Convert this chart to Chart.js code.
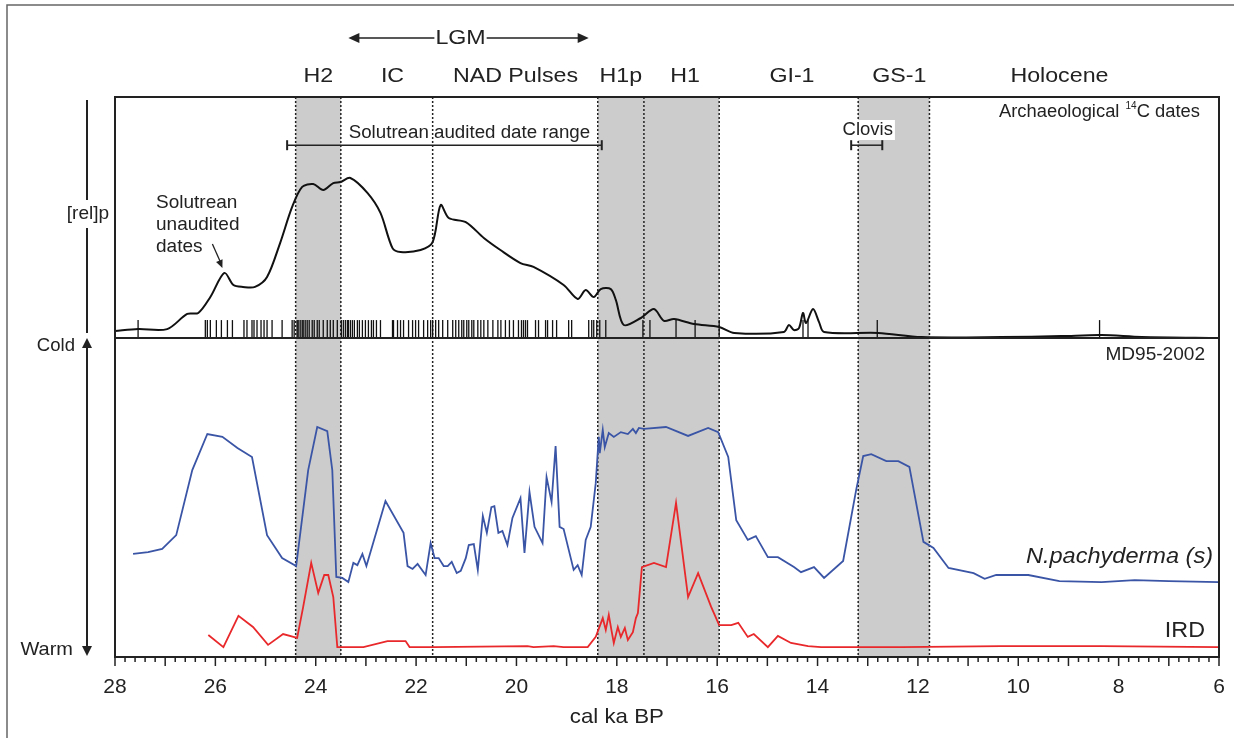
<!DOCTYPE html>
<html>
<head>
<meta charset="utf-8">
<script src="https://cdn.jsdelivr.net/npm/chart.js@4.4.1/dist/chart.umd.min.js"></script>
<style>
  html, body { margin: 0; padding: 0; background: #fff; }
  #wrap { position: relative; width: 1234px; height: 738px; }
  canvas { display: block; }
</style>
</head>
<body>
<div id="wrap"><canvas id="chart" width="1234" height="738"></canvas></div>
<script>
// x axis: cal ka BP, reversed (28 -> 6)
const xMin = 6;
const xMax = 28;
const xTickStep = 2;

// Archaeological 14C dates, summed relative probability (top panel, arbitrary 0-100)
const relpAge = [28.00, 27.54, 26.96, 26.56, 26.34, 26.10, 25.82, 25.64, 25.45, 25.21, 24.97, 24.71, 24.47, 24.27, 24.05, 23.85, 23.65, 23.51, 23.31, 22.97, 22.71, 22.47, 22.31, 21.91, 21.67, 21.51, 21.35, 21.01, 20.65, 20.32, 19.92, 19.66, 19.06, 18.78, 18.62, 18.46, 18.32, 18.12, 18.02, 17.86, 17.52, 17.26, 17.06, 16.86, 16.46, 15.96, 15.66, 14.67, 14.57, 14.47, 14.37, 14.29, 14.23, 14.09, 13.97, 13.87, 12.79, 11.93, 10.34, 9.14, 8.34, 7.54, 6.00];
const relpVal = [2.9, 3.7, 3.7, 10.0, 10.4, 17.0, 27.0, 22.0, 21.2, 21.2, 25.3, 39.4, 54.4, 62.7, 63.9, 61.4, 64.3, 64.7, 66.4, 60.2, 51.9, 37.3, 35.7, 36.5, 39.8, 55.2, 49.8, 48.1, 41.5, 36.5, 31.1, 29.5, 22.0, 16.2, 19.9, 17.0, 20.3, 20.3, 15.8, 5.4, 8.3, 12.0, 7.1, 7.9, 5.8, 4.6, 2.1, 2.5, 5.4, 3.3, 4.1, 10.4, 6.2, 12.0, 6.6, 2.5, 2.1, 0.4, 0.4, 0.8, 1.2, 0.4, 0.0];

// individual archaeological dates (ka)
const dateTicks = [27.54, 26.20, 26.16, 26.10, 25.98, 25.88, 25.76, 25.66, 25.43, 25.37, 25.27, 25.23, 25.17, 25.09, 25.03, 24.97, 24.87, 24.67, 24.47, 24.43, 24.37, 24.35, 24.31, 24.27, 24.25, 24.21, 24.17, 24.13, 24.07, 24.03, 23.97, 23.93, 23.85, 23.77, 23.71, 23.65, 23.57, 23.49, 23.45, 23.41, 23.37, 23.35, 23.31, 23.27, 23.23, 23.17, 23.13, 23.07, 23.01, 22.95, 22.89, 22.85, 22.79, 22.71, 22.47, 22.45, 22.37, 22.31, 22.25, 22.15, 22.07, 22.01, 21.95, 21.85, 21.77, 21.71, 21.67, 21.61, 21.55, 21.47, 21.37, 21.27, 21.21, 21.15, 21.09, 21.05, 20.99, 20.95, 20.89, 20.85, 20.77, 20.71, 20.65, 20.57, 20.47, 20.37, 20.31, 20.22, 20.14, 20.06, 19.96, 19.90, 19.86, 19.82, 19.78, 19.62, 19.56, 19.42, 19.38, 19.28, 19.20, 18.96, 18.90, 18.56, 18.50, 18.46, 18.40, 18.34, 18.22, 17.48, 17.34, 16.82, 16.44, 15.96, 14.29, 14.19, 12.81, 8.38];

// MD95-2002 N. pachyderma (s) (bottom panel, arbitrary 0-100)
const npsAge = [27.64, 27.34, 27.06, 26.78, 26.46, 26.16, 25.86, 25.56, 25.27, 24.97, 24.67, 24.39, 24.15, 23.97, 23.77, 23.67, 23.59, 23.47, 23.35, 23.25, 23.17, 23.07, 22.99, 22.61, 22.25, 22.17, 22.07, 21.97, 21.81, 21.71, 21.63, 21.55, 21.45, 21.37, 21.29, 21.19, 21.11, 21.01, 20.95, 20.85, 20.77, 20.67, 20.59, 20.50, 20.44, 20.36, 20.28, 20.18, 20.08, 19.92, 19.84, 19.74, 19.64, 19.48, 19.40, 19.30, 19.22, 19.14, 19.06, 18.86, 18.78, 18.70, 18.62, 18.52, 18.42, 18.36, 18.34, 18.28, 18.24, 18.16, 18.06, 17.92, 17.78, 17.68, 17.62, 17.56, 17.46, 17.02, 16.58, 16.18, 15.98, 15.78, 15.62, 15.39, 15.23, 14.99, 14.79, 14.47, 14.33, 14.07, 13.87, 13.49, 13.23, 13.09, 12.93, 12.63, 12.39, 12.17, 11.89, 11.69, 11.39, 10.89, 10.67, 10.44, 9.80, 9.18, 8.34, 7.68, 7.00, 6.00];
const npsVal = [32.3, 32.9, 33.9, 38.2, 58.6, 69.9, 69.0, 65.5, 62.7, 38.2, 31.0, 28.5, 58.6, 72.1, 70.8, 58.6, 25.1, 24.8, 23.5, 29.5, 28.8, 32.3, 28.5, 48.9, 38.9, 28.5, 27.6, 29.2, 25.7, 35.7, 31.0, 31.0, 28.5, 28.5, 29.8, 26.3, 27.0, 31.0, 35.1, 35.4, 27.3, 44.2, 38.9, 47.0, 47.3, 38.9, 39.5, 35.1, 43.6, 49.8, 32.6, 51.7, 40.8, 35.7, 56.4, 48.6, 66.1, 40.8, 40.1, 27.3, 28.8, 25.7, 36.7, 40.8, 54.5, 69.0, 63.9, 71.2, 65.8, 70.2, 69.0, 70.5, 69.9, 71.5, 70.2, 71.8, 71.5, 72.1, 69.3, 71.8, 70.5, 62.7, 42.9, 36.7, 37.9, 31.3, 31.3, 28.2, 26.6, 28.2, 24.8, 30.1, 52.4, 63.0, 63.6, 61.4, 61.4, 59.6, 36.1, 34.2, 27.9, 26.3, 24.5, 25.7, 25.7, 23.8, 23.5, 24.1, 23.8, 23.5];

// MD95-2002 IRD (bottom panel, same arbitrary scale)
const irdAge = [26.14, 25.84, 25.54, 25.25, 24.95, 24.65, 24.37, 24.25, 24.09, 23.95, 23.83, 23.75, 23.65, 23.57, 23.51, 23.05, 22.57, 22.21, 22.13, 21.65, 19.78, 19.66, 19.26, 19.06, 18.58, 18.42, 18.28, 18.22, 18.16, 18.10, 18.06, 17.98, 17.92, 17.84, 17.78, 17.68, 17.62, 17.58, 17.50, 17.26, 17.02, 16.82, 16.58, 16.38, 16.12, 15.96, 15.72, 15.58, 15.39, 15.27, 14.99, 14.79, 14.53, 14.19, 13.93, 12.33, 10.34, 8.34, 6.00];
const irdVal = [6.9, 3.1, 12.9, 9.4, 3.8, 7.2, 6.0, 15.7, 29.5, 20.1, 25.7, 25.7, 18.8, 3.1, 3.1, 3.1, 5.0, 5.0, 3.1, 3.1, 3.4, 3.1, 3.4, 3.1, 3.1, 6.3, 12.2, 8.5, 13.2, 7.8, 4.4, 9.4, 6.3, 9.1, 5.3, 7.8, 12.2, 13.8, 28.2, 29.5, 28.2, 48.3, 18.8, 26.3, 15.7, 10.0, 10.0, 10.7, 6.3, 7.2, 3.1, 6.6, 4.4, 3.4, 3.1, 3.1, 3.4, 3.4, 3.1];

// shaded stadials and period boundaries (ka)
const bandStart = [24.4, 18.38, 17.46, 13.19];
const bandEnd = [23.5, 17.46, 15.96, 11.77];
const boundaries = [24.4, 23.5, 21.67, 18.38, 17.46, 15.96, 13.19, 11.77];

// period labels above the plot
const periodNames = ['H2', 'IC', 'NAD Pulses', 'H1p', 'H1', 'GI-1', 'GS-1', 'Holocene'];
const periodCenters = [23.95, 22.47, 20.02, 17.92, 16.64, 14.51, 12.37, 9.18];
const lgmRange = [23.35, 18.56];

// date ranges (ka) drawn as bars in top panel
const solutreanRange = [24.57, 18.30];
const clovisRange = [13.33, 12.71];

const FONT = '"Liberation Sans", Arial, sans-serif';
const TEXT = '#222';

function pts(xs, ys) {
    return xs.map((x, i) => ({ x: x, y: ys[i] }));
}

// text with optional horizontal stretch (the source figure is slightly wide)
function drawText(ctx, text, x, y, size, sx, align, style) {
    ctx.save();
    ctx.font = (style ? style + ' ' : '') + size + 'px ' + FONT;
    ctx.textAlign = align || 'center';
    ctx.translate(x, y);
    ctx.scale(sx || 1, 1);
    ctx.fillText(text, 0, 0);
    const w = ctx.measureText(text).width * (sx || 1);
    ctx.restore();
    return w;
}

function arrowHead(ctx, x, y, dir, len, half) {
    // dir: 'left' | 'right' | 'up' | 'down', (x, y) is the tip
    ctx.beginPath();
    ctx.moveTo(x, y);
    if (dir === 'left') { ctx.lineTo(x + len, y - half); ctx.lineTo(x + len, y + half); }
    if (dir === 'right') { ctx.lineTo(x - len, y - half); ctx.lineTo(x - len, y + half); }
    if (dir === 'up') { ctx.lineTo(x - half, y + len); ctx.lineTo(x + half, y + len); }
    if (dir === 'down') { ctx.lineTo(x - half, y - len); ctx.lineTo(x + half, y - len); }
    ctx.closePath();
    ctx.fill();
}

// Shading, dotted boundaries, frames, ticks and annotation text
const panelPlugin = {
    id: 'panels',
    beforeDatasetsDraw(chart) {
        const { ctx, chartArea: a, scales: { x } } = chart;
        ctx.save();
        ctx.fillStyle = '#cccccc';
        bandStart.forEach((s, i) => {
            const x0 = x.getPixelForValue(s);
            const x1 = x.getPixelForValue(bandEnd[i]);
            ctx.fillRect(x0, a.top, x1 - x0, a.bottom - a.top);
        });
        ctx.setLineDash([2, 2]);
        ctx.strokeStyle = '#222';
        ctx.lineWidth = 1.5;
        boundaries.forEach(b => {
            const px = x.getPixelForValue(b);
            ctx.beginPath();
            ctx.moveTo(px, a.top);
            ctx.lineTo(px, a.bottom);
            ctx.stroke();
        });
        ctx.restore();
    },
    afterDatasetsDraw(chart) {
        const { ctx, chartArea: a, scales: { x, yTop, yBot } } = chart;
        ctx.save();

        // outer figure frame
        ctx.strokeStyle = '#666';
        ctx.lineWidth = 1.5;
        ctx.beginPath();
        ctx.moveTo(7, 738);
        ctx.lineTo(7, 5);
        ctx.lineTo(1234, 5);
        ctx.stroke();

        // panel boxes
        ctx.strokeStyle = '#222';
        ctx.lineWidth = 2;
        ctx.strokeRect(a.left, a.top, a.right - a.left, a.bottom - a.top);
        ctx.beginPath();
        ctx.moveTo(a.left, yBot.top);
        ctx.lineTo(a.right, yBot.top);
        ctx.stroke();

        // x axis minor / major ticks
        ctx.lineWidth = 1.5;
        for (let i = 0; i <= (xMax - xMin) * 5; i++) {
            const v = xMin + i / 5;
            const px = x.getPixelForValue(v);
            const major = i % 5 === 0;
            ctx.beginPath();
            ctx.moveTo(px, a.bottom);
            ctx.lineTo(px, a.bottom + (major ? 9 : 5));
            ctx.stroke();
        }

        ctx.fillStyle = TEXT;
        ctx.textBaseline = 'middle';

        // axis title (sits under 18 ka in the source)
        drawText(ctx, 'cal ka BP', x.getPixelForValue(18), 717, 21, 1.06);

        // period labels + LGM arrow
        periodNames.forEach((n, i) => {
            drawText(ctx, n, x.getPixelForValue(periodCenters[i]), 77, 19.5, 1.19);
        });
        const l0 = x.getPixelForValue(lgmRange[0]);
        const l1 = x.getPixelForValue(lgmRange[1]);
        const lc = (l0 + l1) / 2 - 8;
        const lw = drawText(ctx, 'LGM', lc, 39, 19.5, 1.19) / 2 + 1;
        ctx.lineWidth = 1.5;
        ctx.beginPath();
        ctx.moveTo(l0 + 8, 38);
        ctx.lineTo(lc - lw, 38);
        ctx.moveTo(lc + lw, 38);
        ctx.lineTo(l1 - 8, 38);
        ctx.stroke();
        arrowHead(ctx, l0, 38, 'left', 11, 5);
        arrowHead(ctx, l1, 38, 'right', 11, 5);

        // left side: [rel]p and Cold / Warm arrow
        const ax = a.left - 28;
        ctx.lineWidth = 2;
        ctx.beginPath();
        ctx.moveTo(ax, yTop.top + 3);
        ctx.lineTo(ax, 200);
        ctx.moveTo(ax, 228);
        ctx.lineTo(ax, yTop.bottom - 5);
        ctx.moveTo(ax, yBot.top + 8);
        ctx.lineTo(ax, yBot.bottom - 8);
        ctx.stroke();
        arrowHead(ctx, ax, yBot.top, 'up', 10, 5);
        arrowHead(ctx, ax, yBot.bottom - 1, 'down', 10, 5);
        drawText(ctx, '[rel]p', ax + 1, 214, 18.5, 1.03);
        drawText(ctx, 'Cold', ax - 12, 346, 18, 1.03, 'right');
        drawText(ctx, 'Warm', ax - 14, 650, 18.5, 1.08, 'right');

        // panel titles
        let rx = a.right - 19;
        rx -= drawText(ctx, 'C dates', rx, 112, 17.5, 1.05, 'right');
        rx -= drawText(ctx, '14', rx, 106, 10, 1, 'right') + 1;
        drawText(ctx, 'Archaeological ', rx, 112, 17.5, 1.05, 'right');
        drawText(ctx, 'MD95-2002', a.right - 14, 355, 18.5, 1.03, 'right');
        drawText(ctx, 'N.pachyderma (s)', a.right - 6, 557, 22, 1.07, 'right', 'italic');
        drawText(ctx, 'IRD', a.right - 14, 631, 22, 1.06, 'right');

        // Solutrean audited range label
        const s0 = x.getPixelForValue(solutreanRange[0]);
        const s1 = x.getPixelForValue(solutreanRange[1]);
        drawText(ctx, 'Solutrean audited date range', (s0 + s1) / 2 + 25, 133, 18, 1.04);

        // Clovis label with white box
        const c0 = x.getPixelForValue(clovisRange[0]);
        const c1 = x.getPixelForValue(clovisRange[1]);
        const cx = (c0 + c1) / 2 + 1;
        ctx.font = '18.5px ' + FONT;
        const cw = ctx.measureText('Clovis').width;
        ctx.fillStyle = '#fff';
        ctx.fillRect(cx - cw / 2 - 2, 120, cw + 4, 20);
        ctx.fillStyle = TEXT;
        drawText(ctx, 'Clovis', cx, 130, 18.5, 1);

        // Solutrean unaudited dates note + arrow to the 25.8 ka peak
        drawText(ctx, 'Solutrean', 156, 203, 19, 1, 'left');
        drawText(ctx, 'unaudited', 156, 225, 19, 1, 'left');
        drawText(ctx, 'dates', 156, 247, 19, 1, 'left');
        const tipX = x.getPixelForValue(25.82) - 2;
        const tipY = yTop.getPixelForValue(27) - 5;
        ctx.lineWidth = 1.3;
        ctx.beginPath();
        ctx.moveTo(tipX - 10, tipY - 24);
        ctx.lineTo(tipX - 2, tipY - 6);
        ctx.stroke();
        const ang = Math.atan2(24, 10);
        ctx.save();
        ctx.translate(tipX, tipY);
        ctx.rotate(ang - Math.PI / 2);
        arrowHead(ctx, 0, 0, 'down', 8, 3.5);
        ctx.restore();

        ctx.restore();
    }
};

const rangeStyle = {
    borderColor: '#222',
    borderWidth: 1.5,
    pointStyle: 'line',
    pointRotation: 90,
    pointRadius: 5,
    pointBorderWidth: 2,
    pointBorderColor: '#222',
    showLine: true,
    yAxisID: 'yTop',
    clip: false
};

new Chart(document.getElementById('chart'), {
    type: 'scatter',
    data: {
        datasets: [
            {
                label: 'Archaeological 14C dates',
                data: pts(relpAge, relpVal),
                showLine: true,
                borderColor: '#111',
                borderWidth: 2,
                pointRadius: 0,
                tension: 0.3,
                yAxisID: 'yTop'
            },
            {
                label: 'dates',
                data: dateTicks.map(d => ({ x: d, y: 3.7 })),
                pointStyle: 'line',
                pointRotation: 90,
                pointRadius: 9,
                pointBorderWidth: 1.3,
                pointBorderColor: '#111',
                yAxisID: 'yTop',
                clip: false
            },
            Object.assign({ label: 'Solutrean', data: pts(solutreanRange, [80, 80]) }, rangeStyle),
            Object.assign({ label: 'Clovis', data: pts(clovisRange, [80, 80]) }, rangeStyle),
            {
                label: 'N.pachyderma (s)',
                data: pts(npsAge, npsVal),
                showLine: true,
                borderColor: '#3b55a6',
                borderWidth: 1.8,
                pointRadius: 0,
                yAxisID: 'yBot'
            },
            {
                label: 'IRD',
                data: pts(irdAge, irdVal),
                showLine: true,
                borderColor: '#e8282b',
                borderWidth: 1.8,
                pointRadius: 0,
                yAxisID: 'yBot'
            }
        ]
    },
    options: {
        responsive: false,
        animation: false,
        devicePixelRatio: 1,
        layout: { padding: { left: 115, right: 15, top: 97, bottom: 0 } },
        plugins: {
            legend: { display: false },
            tooltip: { enabled: false }
        },
        scales: {
            x: {
                type: 'linear',
                reverse: true,
                min: xMin,
                max: xMax,
                grid: { display: false, drawTicks: false },
                border: { display: false },
                ticks: {
                    stepSize: xTickStep,
                    autoSkip: false,
                    maxRotation: 0,
                    padding: 18,
                    color: TEXT,
                    font: { family: FONT, size: 21 }
                },
                afterFit(scale) {
                    // fixed axis band below the plot, no extra label overhang
                    scale.height = 81;
                    scale.paddingLeft = 0;
                    scale.paddingRight = 0;
                }
            },
            yBot: {
                type: 'linear',
                position: 'left',
                stack: 'panels',
                stackWeight: 319,
                weight: 0,
                min: 0,
                max: 100,
                display: false
            },
            yTop: {
                type: 'linear',
                position: 'left',
                stack: 'panels',
                stackWeight: 241,
                weight: 1,
                min: 0,
                max: 100,
                display: false
            }
        }
    },
    plugins: [panelPlugin]
});
</script>
</body>
</html>
